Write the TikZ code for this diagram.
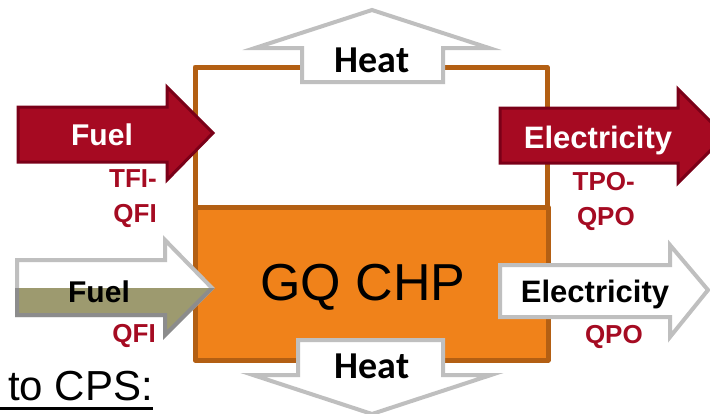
\documentclass[tikz,border=0pt]{standalone}
\usepackage{fontspec}
\setmainfont{Liberation Sans}
\newfontfamily\calib{Carlito}
\definecolor{boxedge}{HTML}{B35F13}
\definecolor{chporange}{HTML}{F0821A}
\definecolor{redfill}{HTML}{A60A22}
\definecolor{rededge}{HTML}{7A0018}
\definecolor{redtext}{HTML}{A50B22}
\definecolor{graybord}{HTML}{BFBFBF}
\definecolor{darkbord}{HTML}{8C8C8C}
\definecolor{olive}{HTML}{9D9A6F}
\tikzset{
  boxline/.style={draw=boxedge, line width=5pt, line join=round},
  redarrow/.style={fill=redfill, draw=rededge, line width=3pt, line join=miter},
  grayarrow/.style={fill=white, draw=graybord, line width=4pt, line join=miter},
  heattext/.style={font=\calib\bfseries\fontsize{38}{40}\selectfont, text=black, inner sep=0pt},
  flowtext/.style={font=\bfseries\fontsize{30}{34}\selectfont, inner sep=0pt},
  electext/.style={font=\bfseries\fontsize{31}{34}\selectfont, inner sep=0pt},
  codetext/.style={font=\bfseries\fontsize{26}{30}\selectfont, text=redtext, inner sep=0pt, anchor=base east},
}
\begin{document}
\begin{tikzpicture}[x=1pt,y=-1pt]
\useasboundingbox (0,0) rectangle (710,413);
\clip (0,0) rectangle (710,413);
% boxes
\draw[boxline, fill=white] (195,67) rectangle (547,207);
\draw[boxline, fill=chporange] (195,207) rectangle (548,360);
\node[font=\fontsize{52}{60}\selectfont, anchor=base, inner sep=0pt] (chp) at (363,300) {GQ CHP};
% top heat arrow
\draw[grayarrow] (302,82) -- (302,48) -- (255,48) -- (372,10) -- (489,48) -- (443,48) -- (443,82) -- cycle;
\node[heattext, anchor=base] (heatout) at (372,72) {Heat};
% bottom heat arrow
\draw[grayarrow] (298,340) -- (443,340) -- (443,375) -- (491,375) -- (372,414) -- (253,375) -- (298,375) -- cycle;
\node[heattext, anchor=base] (heatgq) at (372,378) {Heat};
% top fuel arrow
\draw[redarrow] (18,107) -- (167,107) -- (167,87) -- (213,133) -- (167,180) -- (167,162) -- (18,162) -- cycle;
\node[flowtext, text=white, anchor=base] (fueltot) at (102,145) {Fuel};
\node[codetext] (tfi) at (157,187) {TFI-};
\node[codetext] (qfi1) at (157,222) {QFI};
% top electricity arrow
\draw[redarrow] (500,108) -- (678,108) -- (678,89) -- (725,136) -- (678,183) -- (678,163) -- (500,163) -- cycle;
\node[electext, text=white, anchor=base] (electot) at (598,148) {Electricity};
\node[codetext] (tpo) at (635,190) {TPO-};
\node[codetext] (qpo1) at (635,225) {QPO};
% bottom fuel arrow
\draw[grayarrow] (17,260) -- (165,260) -- (165,240) -- (212,288) -- (165,335) -- (165,315) -- (17,315) -- cycle;
\begin{scope}
  \clip (0,288) rectangle (300,345);
  \fill[olive] (17,260) -- (165,260) -- (165,240) -- (212,288) -- (165,335) -- (165,315) -- (17,315) -- cycle;
  \draw[darkbord, line width=4pt, line join=miter] (17,260) -- (165,260) -- (165,240) -- (212,288) -- (165,335) -- (165,315) -- (17,315) -- cycle;
\end{scope}
\node[flowtext, text=black, anchor=base] (fuelgq) at (99,302) {Fuel};
\node[codetext] (qfi2) at (156,342) {QFI};
% bottom electricity arrow
\draw[grayarrow] (500,265) -- (670,265) -- (670,245) -- (708,290) -- (670,337) -- (670,317) -- (500,317) -- cycle;
\node[electext, text=black, anchor=base] (elecgq) at (595,302) {Electricity};
\node[codetext] (qpo2) at (643,343) {QPO};
% caption
\node[font=\fontsize{42}{46}\selectfont, anchor=base west, inner sep=0pt] (cps) at (8,400) {to CPS:};
\draw[line width=3pt] (0,408) -- (cps.east |- 0,408);
\end{tikzpicture}
\end{document}
